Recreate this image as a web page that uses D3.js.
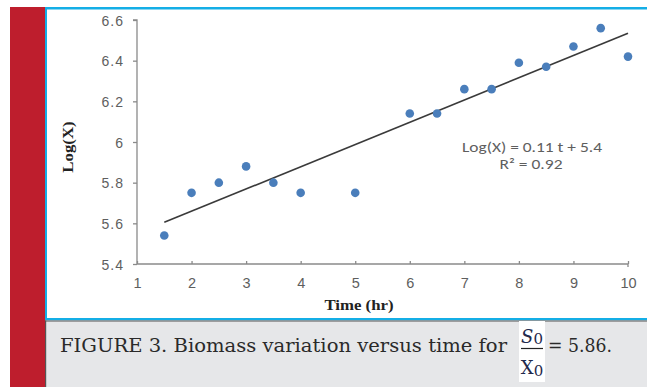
<!DOCTYPE html>
<html><head><meta charset="utf-8">
<script src="https://cdn.jsdelivr.net/npm/d3@7"></script>
<style>
html,body{margin:0;padding:0;background:#fff;}
svg{display:block;}
</style></head>
<body>
<script>
// ---- data ----
const timeHr = [1.5, 2, 2.5, 3, 3.5, 4, 5, 6, 6.5, 7, 7.5, 8, 8.5, 9, 9.5, 10];
const logX   = [5.54, 5.75, 5.80, 5.88, 5.80, 5.75, 5.75, 6.14, 6.14, 6.26, 6.26, 6.39, 6.37, 6.47, 6.56, 6.42];
const xTicks = [1, 2, 3, 4, 5, 6, 7, 8, 9, 10];
const yTicks = [5.4, 5.6, 5.8, 6.0, 6.2, 6.4, 6.6];
const yTickLabels = ["5.4", "5.6", "5.8", "6", "6.2", "6.4", "6.6"];
const equationText = "Log(X) = 0.11 t + 5.4";
const r2Text = "R\u00B2 = 0.92";
const xTitle = "Time (hr)";
const yTitle = "Log(X)";
const captionText = "FIGURE 3. Biomass variation versus time for";
const captionTail = "= 5.86.";

const W = 647, H = 387;
const svg = d3.select("body").append("svg").attr("width", W).attr("height", H);

// frame decorations
svg.append("rect").attr("x", 0).attr("y", 0).attr("width", W).attr("height", H).attr("fill", "#fff");
svg.append("rect").attr("x", 10).attr("y", 7).attr("width", 35).attr("height", H - 7).attr("fill", "#be1e2d");
svg.append("rect").attr("x", 45).attr("y", 7).attr("width", W - 45).attr("height", 2.5).attr("fill", "#14aee6");
svg.append("rect").attr("x", 45).attr("y", 7).attr("width", 2).attr("height", 313).attr("fill", "#14aee6");
svg.append("rect").attr("x", 45).attr("y", 318).attr("width", W - 45).attr("height", 2.5).attr("fill", "#14aee6");
// caption panel
svg.append("rect").attr("x", 45).attr("y", 320.5).attr("width", W - 45).attr("height", H - 320.5).attr("fill", "#e6e7e9");
svg.append("rect").attr("x", 45).attr("y", 320.5).attr("width", W - 45).attr("height", 1).attr("fill", "#555");
svg.append("rect").attr("x", 45).attr("y", 320.5).attr("width", 1.2).attr("height", H - 320.5).attr("fill", "#555");

// scales
const x = d3.scaleLinear().domain([1, 10]).range([137, 628]);
const y = d3.scaleLinear().domain([5.4, 6.6]).range([264, 20]);

const axisColor = "#8a8a8a", labelColor = "#5e5e5e";

// y axis
const gy = svg.append("g").attr("transform", "translate(137,0)")
  .call(d3.axisLeft(y).tickValues(yTicks).tickSize(4).tickPadding(9)
    .tickFormat((d, i) => yTickLabels[i]));
gy.select(".domain").attr("stroke", axisColor).attr("stroke-width", 1.3).attr("d", `M-4,${y(6.6)}H0V${y(5.4)}`);
gy.selectAll(".tick line").attr("stroke", axisColor).attr("stroke-width", 1.3);
gy.selectAll(".tick text").attr("fill", labelColor).attr("font-family", "Liberation Sans, Arial, sans-serif")
  .attr("font-size", 14).attr("letter-spacing", 1).attr("dy", "0.36em");

// x axis
const gx = svg.append("g").attr("transform", "translate(0,264)")
  .call(d3.axisBottom(x).tickValues(xTicks).tickSize(-3).tickPadding(0).tickFormat(d3.format("d")));
gx.select(".domain").attr("stroke", axisColor).attr("stroke-width", 1.3).attr("d", `M${x(1)},0H${x(10)}V3`);
gx.selectAll(".tick line").attr("stroke", axisColor).attr("stroke-width", 1.3);
gx.selectAll(".tick text").attr("fill", labelColor).attr("font-family", "Liberation Sans, Arial, sans-serif")
  .attr("font-size", 14.5).attr("y", 14).attr("dy", "0.71em");

// trendline (least squares)
const n = timeHr.length;
const mx = d3.mean(timeHr), my = d3.mean(logX);
let sxy = 0, sxx = 0;
for (let i = 0; i < n; i++) { sxy += (timeHr[i] - mx) * (logX[i] - my); sxx += (timeHr[i] - mx) ** 2; }
const slope = sxy / sxx, icpt = my - slope * mx;
const xr = d3.extent(timeHr);
svg.append("line")
  .attr("x1", x(xr[0])).attr("y1", y(icpt + slope * xr[0]))
  .attr("x2", x(xr[1])).attr("y2", y(icpt + slope * xr[1]))
  .attr("stroke", "#3a3a3a").attr("stroke-width", 1.6);

// points
svg.append("g").selectAll("circle").data(timeHr).join("circle")
  .attr("cx", d => x(d)).attr("cy", (d, i) => y(logX[i])).attr("r", 4.3)
  .attr("fill", "#4a7ebb");

// equation
const eqFont = "Carlito, Calibri, Liberation Sans, sans-serif";
svg.append("text").attr("x", 532).attr("y", 152).attr("text-anchor", "middle")
  .attr("font-family", eqFont).attr("font-size", 14.5).attr("fill", labelColor)
  .attr("textLength", 140).attr("lengthAdjust", "spacingAndGlyphs").text(equationText);
svg.append("text").attr("x", 531).attr("y", 169).attr("text-anchor", "middle")
  .attr("font-family", eqFont).attr("font-size", 14.5).attr("fill", labelColor)
  .attr("textLength", 63).attr("lengthAdjust", "spacingAndGlyphs").text(r2Text);

// axis titles
svg.append("text").attr("transform", "translate(73,147) rotate(-90) scale(1.2,1)")
  .attr("text-anchor", "middle").attr("font-family", "Liberation Serif, Times New Roman, serif")
  .attr("font-weight", "bold").attr("font-size", 14).attr("fill", "#222").text(yTitle);
svg.append("text").attr("transform", "translate(359,310) scale(1.2,1)")
  .attr("text-anchor", "middle").attr("font-family", "Liberation Serif, Times New Roman, serif")
  .attr("font-weight", "bold").attr("font-size", 14).attr("fill", "#222").text(xTitle);

// caption
const capFont = "DejaVu Serif, Liberation Serif, serif";
svg.append("text").attr("x", 60).attr("y", 352).attr("font-family", capFont)
  .attr("font-size", 18).attr("fill", "#2a2a2a").attr("textLength", 447).attr("lengthAdjust", "spacingAndGlyphs")
  .text(captionText);
// fraction box
svg.append("rect").attr("x", 519).attr("y", 321).attr("width", 26).attr("height", 61).attr("fill", "#fff");
const fracColor = "#1f2a4d";
const s0 = svg.append("text").attr("x", 532).attr("y", 343).attr("text-anchor", "middle")
  .attr("font-family", capFont).attr("font-size", 18).attr("fill", fracColor);
s0.append("tspan").attr("font-style", "italic").text("S");
s0.append("tspan").attr("font-size", 15).attr("dy", 1).text("0");
svg.append("line").attr("x1", 521).attr("x2", 543).attr("y1", 348.5).attr("y2", 348.5)
  .attr("stroke", "#222").attr("stroke-width", 1.2);
const x0 = svg.append("text").attr("x", 532).attr("y", 374).attr("text-anchor", "middle")
  .attr("font-family", capFont).attr("font-size", 18).attr("fill", fracColor);
x0.append("tspan").text("X");
x0.append("tspan").attr("font-size", 15).attr("dy", 2).text("0");
svg.append("text").attr("x", 548).attr("y", 352).attr("font-family", capFont)
  .attr("font-size", 18).attr("fill", "#2a2a2a").attr("textLength", 64).attr("lengthAdjust", "spacingAndGlyphs")
  .text(captionTail);
</script>
</body></html>
